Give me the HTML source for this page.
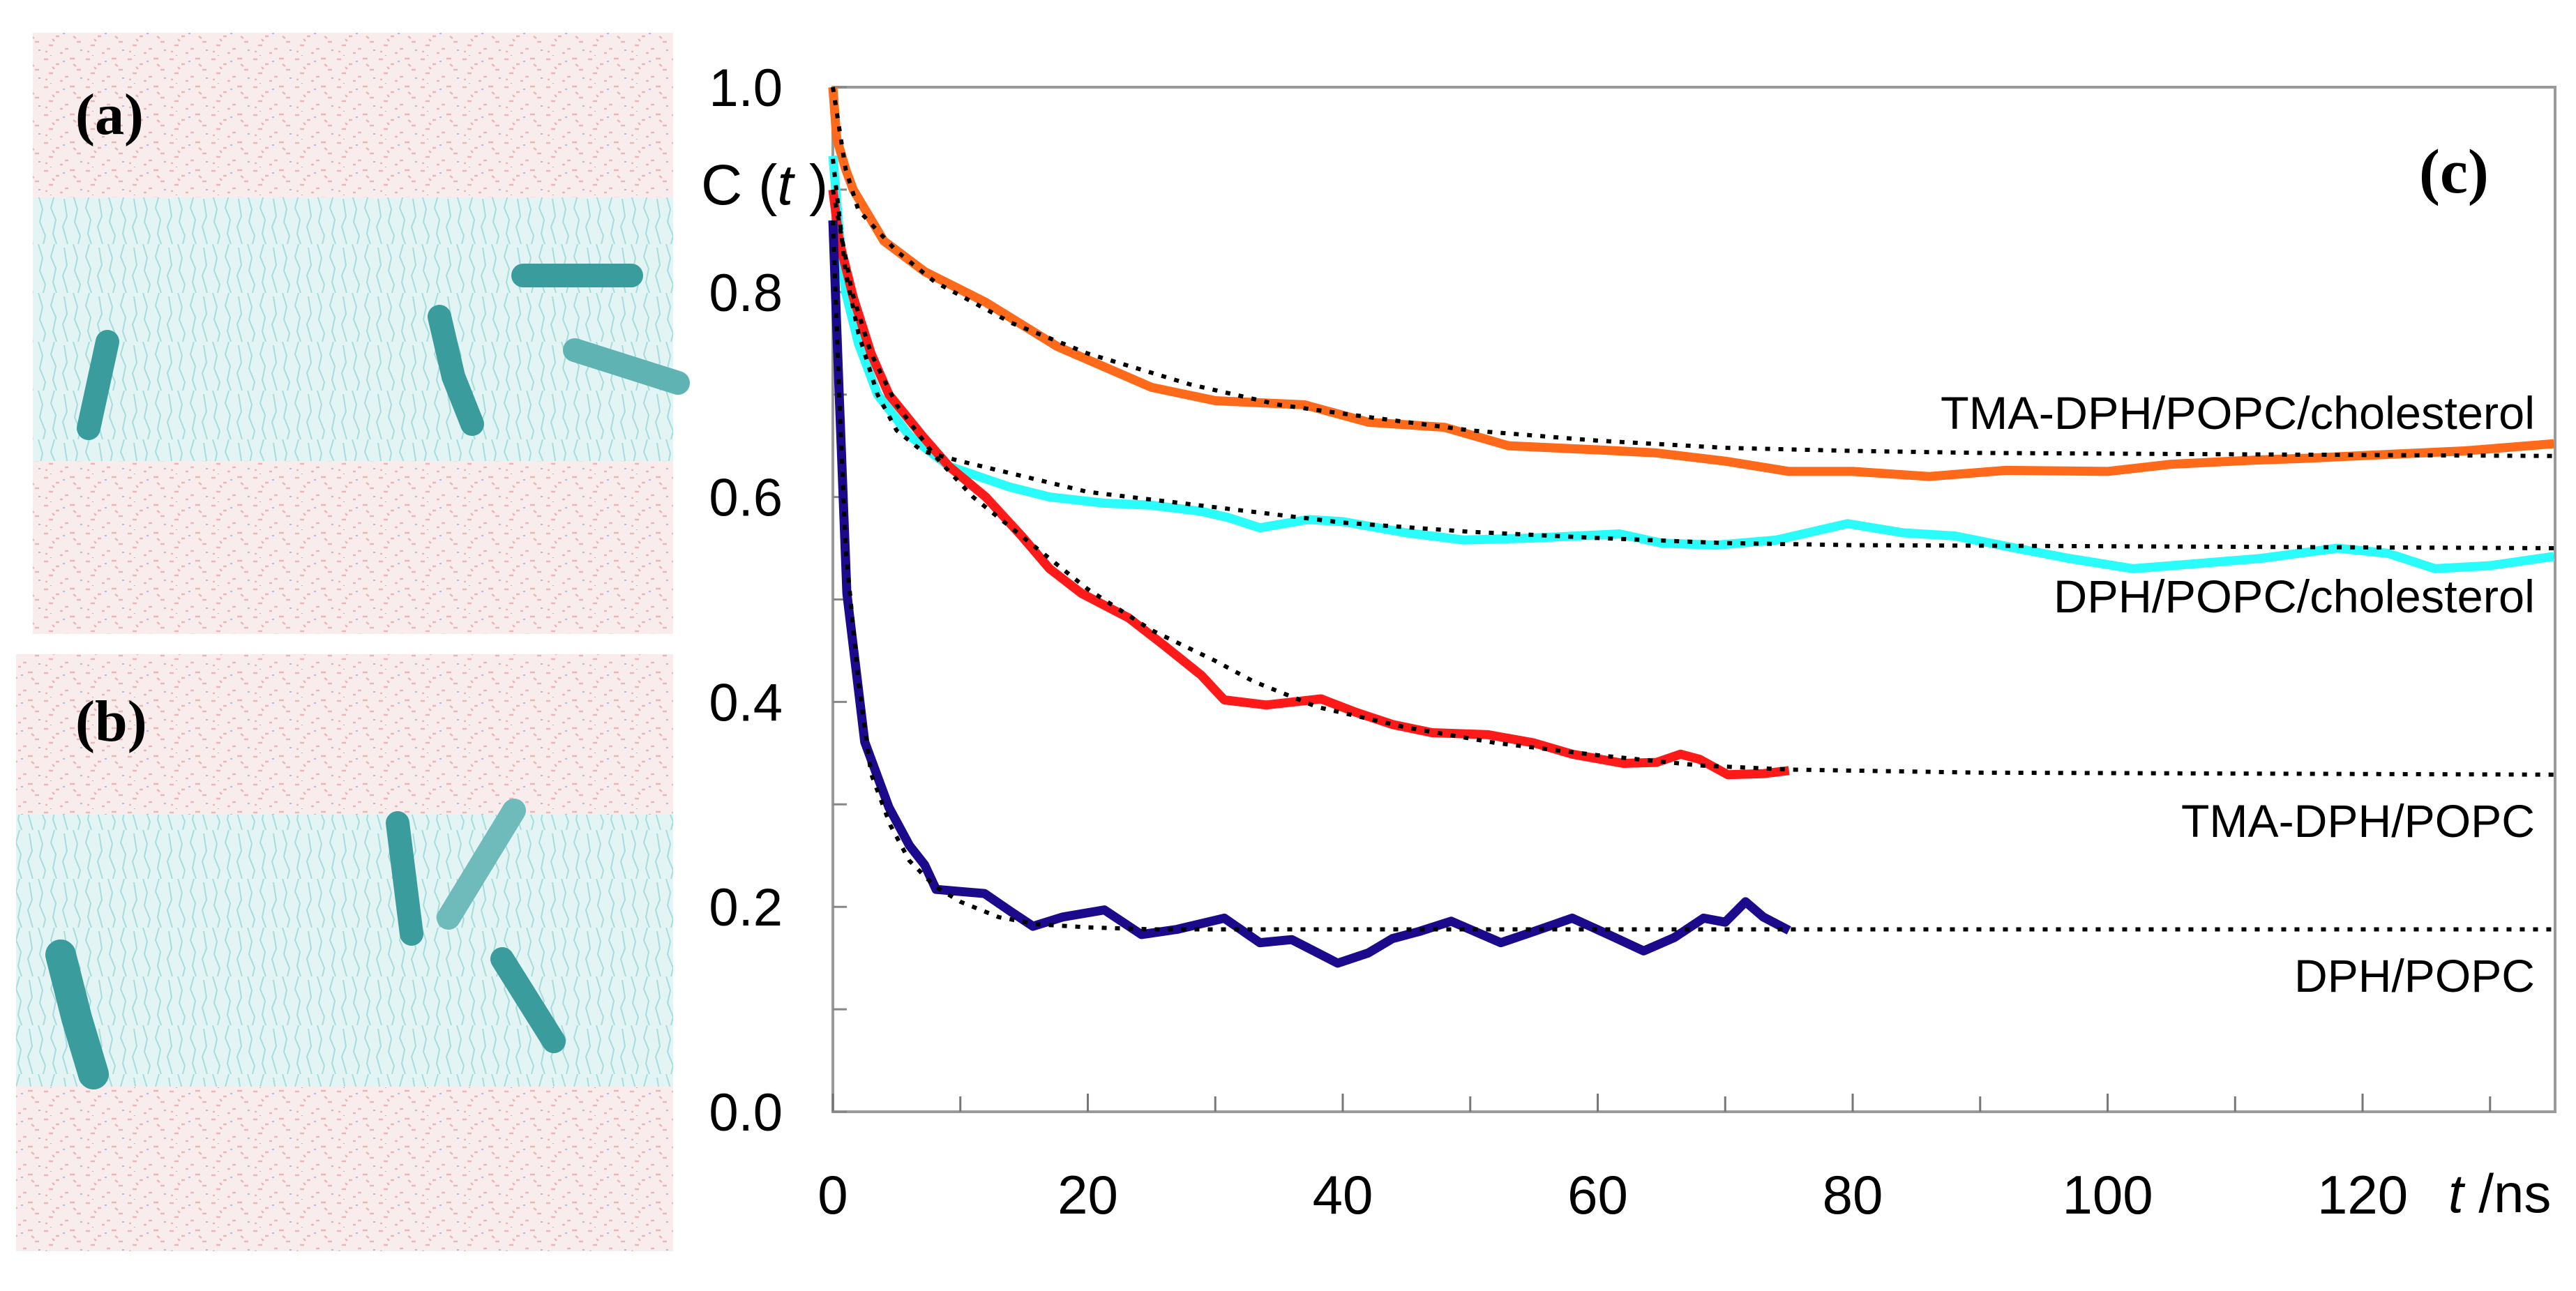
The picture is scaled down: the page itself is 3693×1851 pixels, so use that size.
<!DOCTYPE html>
<html><head><meta charset="utf-8"><style>
html,body{margin:0;padding:0;background:#fff;}
svg{display:block;}
</style></head><body>
<svg id="fig" width="3693" height="1851" viewBox="0 0 3693 1851" xmlns="http://www.w3.org/2000/svg">
<defs>
<pattern id="noise" width="60" height="40" patternUnits="userSpaceOnUse">
<path d="M3 5h6M20 12h5M40 4h7M10 25h6M33 30h5M50 20h6M26 36h4M5 34h3M45 12l4 3M15 16l3 3" stroke="#e8a9a9" stroke-width="2.5" fill="none"/>
<path d="M30 8h3M55 32h3M12 40h2" stroke="#a9a9e0" stroke-width="2" fill="none"/>
</pattern>
<pattern id="lipid" width="50" height="70" patternUnits="userSpaceOnUse">
<path d="M5 0l6 20l-4 18l8 20l-3 12M28 0l-5 18l7 17l-4 20l5 15M42 5l4 25l-6 15l7 25" stroke="#a7dcdc" stroke-width="2" fill="none"/>
</pattern>
</defs>
<g>
<rect x="47" y="47" width="918" height="862" fill="#f8ecec"/>
<rect x="47" y="47" width="918" height="862" fill="url(#noise)" opacity="0.8"/>
<rect x="47" y="283" width="918" height="378" fill="#e3f4f4"/>
<rect x="47" y="283" width="918" height="378" fill="url(#lipid)"/>
<g stroke="#3b9c9e" stroke-linecap="round" fill="none">
<path d="M154 490L127 614" stroke-width="34"/>
<path d="M630 454L650 540L677 608" stroke-width="34"/>
<path d="M750 395L905 395" stroke-width="34"/>
<path d="M824 502L972 549" stroke-width="34" stroke="#5fb3b3"/>
</g>
<text x="108" y="192" font-family="Liberation Serif, serif" font-weight="bold" font-size="84" fill="#000">(a)</text>
</g>
<g>
<rect x="23" y="938" width="942" height="856" fill="#f8ecec"/>
<rect x="23" y="938" width="942" height="856" fill="url(#noise)" opacity="0.8"/>
<rect x="23" y="1168" width="942" height="390" fill="#e3f4f4"/>
<rect x="23" y="1168" width="942" height="390" fill="url(#lipid)"/>
<g stroke="#3b9c9e" stroke-linecap="round" fill="none">
<path d="M87 1369L110 1460L134 1540" stroke-width="44"/>
<path d="M570 1180L590 1339" stroke-width="34"/>
<path d="M737 1162L643 1316" stroke-width="34" stroke="#6fbaba"/>
<path d="M720 1375L794 1493" stroke-width="34"/>
</g>
<text x="108" y="1062" font-family="Liberation Serif, serif" font-weight="bold" font-size="84" fill="#000">(b)</text>
</g>
<g id="chart"></g>
<text x="1005" y="293" font-family="Liberation Sans, sans-serif" font-size="82" fill="#000">C (<tspan font-style="italic">t</tspan> )</text>
<text x="3468" y="276" font-family="Liberation Serif, serif" font-weight="bold" font-size="90" fill="#000">(c)</text>
<text x="3510" y="1738" font-family="Liberation Sans, sans-serif" font-size="78" fill="#000"><tspan font-style="italic">t</tspan> /ns</text>
</svg>
<script>
const xTicks=[0,10,20,30,40,50,60,70,80,90,100,110,120,130];
const xTickLabels=["0","","20","","40","","60","","80","","100","","120",""];
const yTicks=[0,0.1,0.2,0.3,0.4,0.5,0.6,0.7,0.8,0.9,1.0];
const yTickLabels=["0.0","","0.2","","0.4","","0.6","","0.8","","1.0"];
const tmaCholT=[0,0.3,1,1.6,4,7.2,12,17.6,25,30,33.5,37,42,48,53,60,64.6,70,75,80,86,92,100,105,111.5,116,121,128,135];
const tmaCholC=[1.0,0.95,0.92,0.9,0.85,0.82,0.79,0.747,0.707,0.694,0.692,0.69,0.673,0.668,0.65,0.646,0.643,0.635,0.625,0.625,0.62,0.626,0.625,0.632,0.636,0.638,0.641,0.645,0.652];
const dphCholT=[0,0.5,1,2,3.5,6,9.1,13.8,17,21.3,25,28.9,31,33.5,37.3,40,45,49.5,55,61.7,65,69.3,74,79.6,84,88,92.8,97,102,107,112,118,122,125.7,130,135];
const dphCholC=[0.933,0.86,0.8,0.75,0.7,0.66,0.63,0.61,0.6,0.594,0.592,0.586,0.58,0.57,0.578,0.576,0.565,0.558,0.56,0.564,0.555,0.553,0.558,0.574,0.565,0.562,0.55,0.54,0.53,0.535,0.54,0.55,0.545,0.53,0.533,0.542];
const tmaT=[0,0.5,1.6,3,4.4,7,9.1,12,14.8,17,19.5,23.2,26,28.9,30.7,34,38.3,41,43.9,47,51.4,55,58,62,64.6,66.5,68,70.2,73,75];
const tmaC=[0.9,0.85,0.795,0.74,0.7,0.66,0.63,0.6,0.562,0.53,0.506,0.482,0.455,0.426,0.402,0.397,0.403,0.39,0.378,0.37,0.368,0.36,0.349,0.34,0.341,0.349,0.344,0.329,0.33,0.333];
const dphT=[0,0.2,0.5,1.1,2.5,4.4,6,7.2,8.1,10,11.9,14,15.7,18,21.3,24.2,27,30.7,33.5,36,39.6,42,43.9,46,48.5,52.4,55,58,61,63.6,66,68.3,70,71.6,73,75];
const dphC=[0.87,0.8,0.7,0.506,0.361,0.297,0.26,0.241,0.217,0.215,0.213,0.195,0.181,0.19,0.197,0.173,0.178,0.189,0.165,0.168,0.145,0.155,0.169,0.176,0.186,0.165,0.176,0.189,0.172,0.157,0.17,0.189,0.185,0.205,0.19,0.177];
const fitTmaCholT=[0,1,2,5,8,14,20,28,35,42,50,60,70,80,90,135];
const fitTmaCholC=[1.0,0.92,0.88,0.84,0.81,0.77,0.74,0.71,0.69,0.678,0.665,0.655,0.648,0.645,0.643,0.64];
const fitDphCholT=[0,1,2,3.5,5,7,10,15,20,30,40,50,60,70,80,135];
const fitDphCholC=[0.93,0.82,0.76,0.7,0.665,0.645,0.635,0.62,0.605,0.59,0.575,0.566,0.56,0.555,0.553,0.55];
const fitTmaT=[0,1.5,3,5,8,11,15,20,25,30,33,38,45,52,60,68,75,90,135];
const fitTmaC=[0.9,0.8,0.74,0.69,0.64,0.6,0.56,0.51,0.47,0.44,0.42,0.395,0.375,0.36,0.348,0.338,0.334,0.331,0.329];
const fitDphT=[0,0.5,1,2,3,4.5,6,8,10,13,16,20,25,135];
const fitDphC=[0.87,0.7,0.55,0.42,0.33,0.28,0.245,0.22,0.205,0.19,0.183,0.18,0.178,0.178];
const NS='http://www.w3.org/2000/svg';
const X0=1194,X1=3663,Y0=1594,Y1=125,XMAX=135.1;
function sx(t){return X0+(X1-X0)*t/XMAX;}
function sy(c){return Y0-(Y0-Y1)*c;}
const g=document.getElementById('chart');
function mk(tag,attrs,parent){const e=document.createElementNS(NS,tag);for(const k in attrs)e.setAttribute(k,attrs[k]);(parent||g).appendChild(e);return e;}
function pathD(ts,cs){return ts.map((t,i)=>(i?'L':'M')+sx(t).toFixed(1)+' '+sy(cs[i]).toFixed(1)).join(' ');}
const frame=mk('rect',{x:X0,y:Y1,width:X1-X0,height:Y0-Y1,fill:'none',stroke:'#9a9a9a','stroke-width':4});


xTicks.forEach((t,i)=>{
 const tk=mk('line',{x1:sx(t),x2:sx(t),y1:Y0,y2:Y0-(xTickLabels[i]?26:22),stroke:'#777','stroke-width':3});
 
 
 if(xTickLabels[i]){
  const tx=mk('text',{x:sx(t),y:1740,'text-anchor':'middle','font-family':'Liberation Sans, sans-serif','font-size':78,fill:'#000'});
  tx.textContent=xTickLabels[i];
  
  
 }
});
yTicks.forEach((c,i)=>{
 const tk=mk('line',{x1:X0,x2:X0+20,y1:sy(c),y2:sy(c),stroke:'#888','stroke-width':3});
 
 
 if(yTickLabels[i]){
  const tx=mk('text',{x:1122,y:sy(c)+27,'text-anchor':'end','font-family':'Liberation Sans, sans-serif','font-size':76,fill:'#000'});
  tx.textContent=yTickLabels[i];
  
  
 }
});
const series=[
 {n:'tma-dph-popc-cholesterol',t:tmaCholT,c:tmaCholC,col:'#ff6a1a',ft:fitTmaCholT,fc:fitTmaCholC},
 {n:'dph-popc-cholesterol',t:dphCholT,c:dphCholC,col:'#2afcfc',ft:fitDphCholT,fc:fitDphCholC},
 {n:'tma-dph-popc',t:tmaT,c:tmaC,col:'#ff1a1a',ft:fitTmaT,fc:fitTmaC},
 {n:'dph-popc',t:dphT,c:dphC,col:'#1c0a8c',ft:fitDphT,fc:fitDphC}
];
series.forEach(s=>{
 const p=mk('path',{d:pathD(s.t,s.c),fill:'none',stroke:s.col,'stroke-width':13,'stroke-linejoin':'round'});
 
 
});
series.forEach(s=>{
 const f=mk('path',{d:pathD(s.ft,s.fc),fill:'none',stroke:'#000','stroke-width':6,'stroke-dasharray':'7 12'});
 
 
});
const labels=[
 ['TMA-DPH/POPC/cholesterol',2782,615,852],
 ['DPH/POPC/cholesterol',2944,878,690],
 ['TMA-DPH/POPC',3127,1200,507],
 ['DPH/POPC',3289,1422,345]
];
labels.forEach(l=>{
 const t=mk('text',{x:l[1],y:l[2],textLength:l[3],lengthAdjust:'spacingAndGlyphs','font-family':'Liberation Sans, sans-serif','font-size':66,fill:'#000'});
 t.textContent=l[0];
 
 
});
</script>
</body></html>
